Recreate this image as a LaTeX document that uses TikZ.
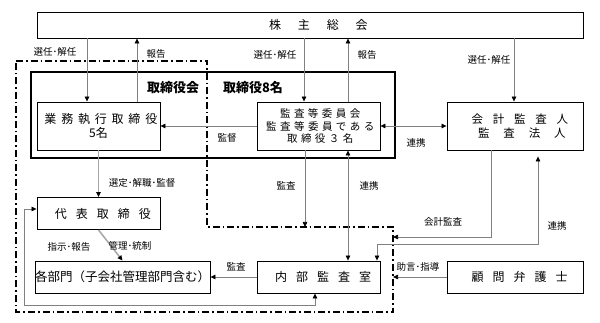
\documentclass[tikz,border=0pt]{standalone}
\usepackage{fontspec}
\setmainfont{Noto Sans CJK JP}
\usetikzlibrary{arrows.meta}

% letter spaced text, trailing space taken back
\newcommand{\tracked}[2]{{\addfontfeature{LetterSpace=#1}#2}\kern-\dimexpr 0.01em*#1\relax}

\begin{document}
\begin{tikzpicture}[x=1pt, y=-1pt,
    head/.tip={Triangle[length=5pt, width=4.5pt, color=black]},
    box/.style={draw, line width=0.9pt, minimum width=123pt, minimum height=48pt,
                inner sep=0pt, align=center, font=\fontsize{12}{14}\selectfont},
    lbl/.style={inner sep=1pt, font=\fontsize{9.5}{11}\selectfont},
    link/.style={draw=gray, line width=0.7pt, -head},
    both/.style={draw=gray, line width=0.7pt, head-head},
    main/.style={draw=gray!70, line width=1.5pt, -head},
    org/.style={line width=1.3pt, dash pattern=on 7pt off 3pt on 1.5pt off 3pt}]

     \useasboundingbox (0,0) rectangle (600,323);

     % organisation outline
     \draw[org] (16,61) -- (207,61) -- (207,227) -- (393,227) -- (393,312) -- (16,312) -- cycle;
     \coordinate (edgeA) at (305,227);
     \coordinate (edgeB) at (393,237);
     \coordinate (edgeC) at (393,277);

     % board
     \node[draw, line width=1.8pt, minimum width=364pt, minimum height=86pt, inner sep=0pt] (board) at (213,115) {};
     \node[font=\fontsize{13}{15}\selectfont\bfseries] (boardname) at (173,88) {取締役会};
     \node[font=\fontsize{13}{15}\selectfont\bfseries] (boardsize) at (253,88) {取締役8名};

     % rectangles
     \node[box, minimum width=546pt, minimum height=26pt] (gm) at (310,25) {\tracked{140}{株主総会}};
     \node[box] (exec) at (98.5,126) {\tracked{40}{業務執行取締役}\\5名};
     \node[box, font=\fontsize{10.5}{12.5}\selectfont] (acm) at (318.5,126)
          {\tracked{33}{監査等委員会}\\\tracked{33}{監査等委員である}\\\tracked{33}{取締役３名}};
     \node[box, minimum width=136pt, font=\fontsize{11.5}{14}\selectfont] (acct) at (515,126)
          {\tracked{85}{会計監査人}\\\tracked{120}{監査法人}};
     \node[box, minimum height=32pt] (rep) at (98.5,213.5) {\tracked{75}{代表取締役}};
     \node[box, minimum width=171pt, minimum height=32pt, font=\fontsize{12.5}{14}\selectfont] (dept) at (122.5,277)
          {各部門（子会社管理部門含む）};
     \node[box, minimum height=32pt] (ia) at (318.5,277) {\tracked{75}{内部監査室}};
     \node[box, minimum width=136pt, minimum height=32pt] (law) at (515,277) {\tracked{75}{顧問弁護士}};

     % shareholders
     \draw[link] ([xshift=-11.5pt]exec.north |- gm.south) -- ([xshift=-11.5pt]exec.north);
     \node[lbl] (l1) at (55,52) {選任･解任};
     \draw[link] ([xshift=38.5pt]exec.north) -- ([xshift=38.5pt]exec.north |- gm.south);
     \node[lbl] (l2) at (156,54) {報告};
     \draw[link] ([xshift=-14.5pt]acm.north |- gm.south) -- ([xshift=-14.5pt]acm.north);
     \node[lbl] (l3) at (275,55) {選任･解任};
     \draw[link] ([xshift=29.5pt]acm.north) -- ([xshift=29.5pt]acm.north |- gm.south);
     \node[lbl] (l4) at (367,55) {報告};
     \draw[link] ([xshift=-1pt]acct.north |- gm.south) -- ([xshift=-1pt]acct.north);
     \node[lbl] (l5) at (489,60) {選任･解任};

     % audit
     \draw[link] (acm.west) -- (exec.east);
     \node[lbl] (l6) at (227,138) {監督};
     \draw[both] (acm.east) -- (acct.west);
     \node[lbl] (l7) at (416,143) {連携};
     \draw[link] ([xshift=-13.5pt]acm.south) -- (edgeA);
     \node[lbl] (l8) at (286,186) {監査};
     \draw[both] ([xshift=29.5pt]acm.south) -- ([xshift=29.5pt]ia.north);
     \node[lbl] (l9) at (369,186) {連携};
     \draw[link] ([xshift=-24pt]acct.south) |- (edgeB);
     \node[lbl] (l10) at (443,222) {会計監査};
     \draw[both, shorten <=6pt] ([xshift=23pt]acct.south) -- ++(0,94) -| ([xshift=58.5pt]ia.north);
     \node[lbl] (l11) at (557,226) {連携};
     \draw[link] (law.west) -- (edgeC);
     \node[lbl] (l12) at (418,267) {助言･指導};
     \draw[link] (ia.west) -- (dept.east);
     \node[lbl] (l13) at (236,267) {監査};

     % execution
     \draw[main] (exec.south) -- (rep.north);
     \node[lbl] (l14) at (142,183) {選定･解職･監督};
     \draw[main] (rep.south) -- (dept.north);
     \node[lbl] (l15) at (69,247) {指示･報告};
     \node[lbl] (l16) at (130,246) {管理･統制};
     \draw[both] ([xshift=-3.5pt]ia.south) -- ++(0,12) -| ([xshift=-12pt, yshift=4.5pt]rep.west) -- ([yshift=4.5pt]rep.west);

\end{tikzpicture}
\end{document}
